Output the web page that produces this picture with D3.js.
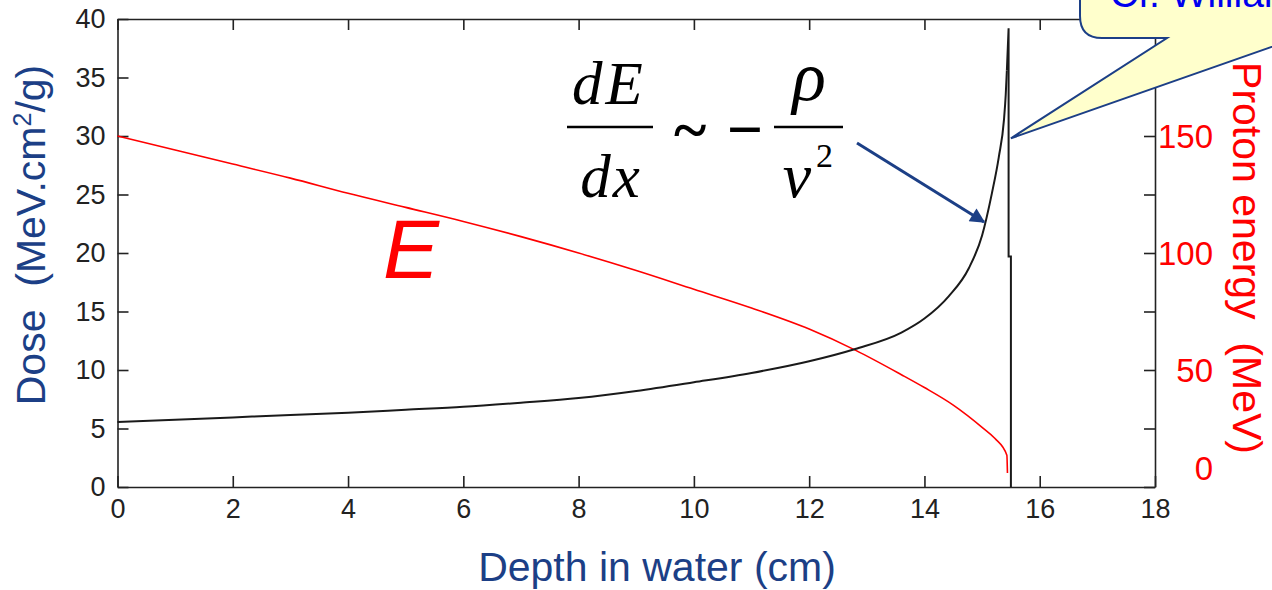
<!DOCTYPE html>
<html>
<head>
<meta charset="utf-8">
<script src="https://cdn.jsdelivr.net/npm/d3@7"></script>
<style>
  body { margin: 0; background: #fff; }
  svg { display: block; }
</style>
</head>
<body>
<svg id="chart"></svg>
<script>
// dose curve (left axis, MeV.cm2/g), rising part
let doseDepth = [0, 1, 2, 3, 4, 5, 6, 7, 8, 9, 10, 11, 12, 12.8, 13.6, 14, 14.42, 14.77, 15.0, 15.17, 15.29, 15.38, 15.41, 15.43]
let doseValue = [5.55, 5.75, 5.95, 6.15, 6.35, 6.6, 6.85, 7.2, 7.6, 8.2, 8.95, 9.75, 10.75, 11.8, 13.2, 14.4, 16.3, 18.7, 21.5, 25.1, 28.2, 31.4, 33.5, 35.6]
// the peak and the fall-off
let peakDepth = [15.43, 15.46, 15.46, 15.5, 15.5]
let peakValue = [35.6, 39.2, 19.7, 19.7, 0]

// proton energy (right axis, MeV)
let energyDepth = [0, 1, 2, 3, 4, 5, 6, 7, 8, 9, 10, 11, 12, 12.8, 13.6, 14, 14.5, 15, 15.22, 15.43, 15.44]
let energyValue = [150, 144, 138, 132, 125.5, 119.5, 113.5, 107, 100, 92.5, 84.5, 76.5, 67.5, 58.5, 48, 42.5, 35, 25.5, 20.8, 13.6, 6]

let xTicks = [0, 2, 4, 6, 8, 10, 12, 14, 16, 18]
let leftTicks = [0, 5, 10, 15, 20, 25, 30, 35, 40]
let rightTicks = [0, 25, 50, 75, 100, 125, 150, 175, 200]
let rightTickLabels = [0, 50, 100, 150]

let width = 1272
let height = 590
let margin = {left: 117.5, right: 1155, top: 19, bottom: 487}

let navy = '#1c3f86'
let tickFont = '"Liberation Sans", Arial, sans-serif'
let sans = 'Arial, "Liberation Sans", sans-serif'

let svg = d3.select('#chart').attr('width', width).attr('height', height)

let xScale = d3.scaleLinear().domain([0, 18]).range([margin.left, margin.right])
let yLeft = d3.scaleLinear().domain([0, 40]).range([margin.bottom, margin.top])
let yRight = d3.scaleLinear().domain([0, 200]).range([margin.bottom, margin.top])

let styleAxis = (g) => {
    g.attr('font-family', tickFont).attr('font-size', 27)
    g.select('.domain').attr('stroke', '#222').attr('stroke-width', 1.6)
    g.selectAll('.tick line').attr('stroke', '#222').attr('stroke-width', 1.6)
    g.selectAll('.tick text').attr('fill', '#222')
}

// bottom axis
svg.append('g')
    .attr('transform', 'translate(0,' + margin.bottom + ')')
    .call(d3.axisBottom(xScale).tickValues(xTicks).tickSize(-11).tickSizeOuter(0).tickPadding(12))
    .call(styleAxis)

// top axis (box)
svg.append('g')
    .attr('transform', 'translate(0,' + margin.top + ')')
    .call(d3.axisTop(xScale).tickValues(xTicks).tickSize(-11).tickSizeOuter(0).tickFormat(''))
    .call(styleAxis)

// left axis
svg.append('g')
    .attr('transform', 'translate(' + margin.left + ',0)')
    .call(d3.axisLeft(yLeft).tickValues(leftTicks).tickSize(-11).tickSizeOuter(0).tickPadding(12))
    .call(styleAxis)

// right axis
svg.append('g')
    .attr('transform', 'translate(' + margin.right + ',0)')
    .call(d3.axisRight(yRight).tickValues(rightTicks).tickSize(-11).tickSizeOuter(0).tickFormat(''))
    .call(styleAxis)

// right labels, red and larger
svg.append('g').selectAll('text')
    .data(rightTickLabels)
    .enter()
    .append('text')
    .attr('x', margin.right + 58)
    .attr('y', (d) => d === 0 ? yRight(d) - 19 : yRight(d))
    .attr('dy', '0.36em')
    .attr('text-anchor', 'end')
    .attr('font-family', tickFont)
    .attr('font-size', 33)
    .attr('fill', '#ff0000')
    .text((d) => d)

// curves
let smooth = d3.line()
    .curve(d3.curveMonotoneX)

let straight = d3.line()

svg.append('path')
    .attr('d', smooth(energyDepth.map((x, i) => [xScale(x), yRight(energyValue[i])])))
    .attr('fill', 'none')
    .attr('stroke', '#ff0000')
    .attr('stroke-width', 1.6)

svg.append('path')
    .attr('d', smooth(doseDepth.map((x, i) => [xScale(x), yLeft(doseValue[i])])))
    .attr('fill', 'none')
    .attr('stroke', '#1a1a1a')
    .attr('stroke-width', 2)

svg.append('path')
    .attr('d', straight(peakDepth.map((x, i) => [xScale(x), yLeft(peakValue[i])])))
    .attr('fill', 'none')
    .attr('stroke', '#1a1a1a')
    .attr('stroke-width', 2)

// axis titles
svg.append('text')
    .attr('transform', 'translate(45,235) rotate(-90)')
    .attr('text-anchor', 'middle')
    .attr('font-family', sans)
    .attr('font-size', 41)
    .attr('fill', navy)
    .attr('xml:space', 'preserve')
    .html('Dose  (MeV.cm<tspan dy="-14" font-size="25">2</tspan><tspan dy="14">/g)</tspan>')

svg.append('text')
    .attr('x', 657)
    .attr('y', 581)
    .attr('text-anchor', 'middle')
    .attr('font-family', sans)
    .attr('font-size', 41)
    .attr('fill', navy)
    .text('Depth in water (cm)')

svg.append('text')
    .attr('transform', 'translate(1233,258) rotate(90)')
    .attr('text-anchor', 'middle')
    .attr('font-family', sans)
    .attr('font-size', 41)
    .attr('fill', '#ff0000')
    .attr('xml:space', 'preserve')
    .text('Proton energy  (MeV)')

// big E label
svg.append('text')
    .attr('x', 383)
    .attr('y', 278)
    .attr('font-family', sans)
    .attr('font-style', 'italic')
    .attr('font-size', 84)
    .attr('fill', '#ff0000')
    .text('E')

// formula dE/dx ~ -rho/v^2
let serif = '"Liberation Serif", "Times New Roman", serif'
let formula = svg.append('g').attr('font-family', serif).attr('fill', '#000')
formula.append('text').attr('x', 609).attr('y', 104).attr('text-anchor', 'middle')
    .attr('font-size', 61).attr('font-style', 'italic').attr('letter-spacing', 3).text('dE')
formula.append('line').attr('x1', 567).attr('x2', 653).attr('y1', 127).attr('y2', 127)
    .attr('stroke', '#000').attr('stroke-width', 2.5)
formula.append('text').attr('x', 611).attr('y', 197).attr('text-anchor', 'middle')
    .attr('font-size', 61).attr('font-style', 'italic').attr('letter-spacing', 2).text('dx')
formula.append('text').attr('x', 690).attr('y', 150).attr('text-anchor', 'middle')
    .attr('font-size', 62).attr('font-weight', 'bold').text('~')
formula.append('text').attr('x', 745).attr('y', 151).attr('text-anchor', 'middle')
    .attr('font-size', 64).attr('font-weight', 'bold').text('\u2212')
formula.append('line').attr('x1', 774).attr('x2', 843).attr('y1', 127).attr('y2', 127)
    .attr('stroke', '#000').attr('stroke-width', 2.5)
formula.append('text').attr('x', 809).attr('y', 100).attr('text-anchor', 'middle')
    .attr('font-size', 70).attr('font-style', 'italic').text('\u03c1')
formula.append('text').attr('x', 797).attr('y', 197).attr('text-anchor', 'middle')
    .attr('font-size', 64).attr('font-style', 'italic').text('v')
formula.append('text').attr('x', 816).attr('y', 167)
    .attr('font-size', 34).text('2')

// arrow to the curve
svg.append('defs').append('marker')
    .attr('id', 'head')
    .attr('viewBox', '0 0 10 10')
    .attr('refX', 9).attr('refY', 5)
    .attr('markerWidth', 6).attr('markerHeight', 5)
    .attr('markerUnits', 'strokeWidth')
    .attr('orient', 'auto')
    .append('path').attr('d', 'M0,0 L10,5 L0,10 Z').attr('fill', navy)

svg.append('line')
    .attr('x1', 857).attr('y1', 143)
    .attr('x2', 984).attr('y2', 222)
    .attr('stroke', navy)
    .attr('stroke-width', 3)
    .attr('marker-end', 'url(#head)')

// callout bubble pointing to the peak
let tip = [xScale(15.5), yLeft(29.8)]
svg.append('path')
    .attr('d', 'M1080,-40 V16 Q1080,38 1102,38 H1167 L' + tip[0] + ',' + tip[1] + ' L1300,37 V-40 Z')
    .attr('fill', '#ffffcc')
    .attr('stroke', navy)
    .attr('stroke-width', 2)

svg.append('text')
    .attr('x', 1110)
    .attr('y', 7)
    .attr('font-family', sans)
    .attr('font-size', 39)
    .attr('fill', '#0000ee')
    .text('Cf. William Bragg')
</script>
</body>
</html>
